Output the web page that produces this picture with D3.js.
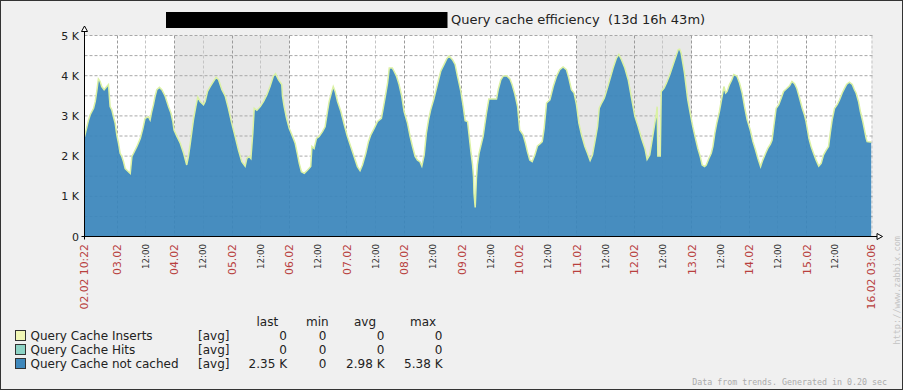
<!DOCTYPE html>
<html><head><meta charset="utf-8">
<script src="https://cdn.jsdelivr.net/npm/d3@7"></script>
<style>html,body{margin:0;padding:0;background:#f0f0f0}svg{display:block}</style>
</head><body><svg id="c" width="903" height="390"></svg>
<script>
const titleText = "Query cache efficiency  (13d 16h 43m)";
const startTime = new Date(2013, 1, 2, 10, 22);
const endTime = new Date(2013, 1, 16, 3, 6);

// hours after the start time, and the "not cached" average value
const hoursFromStart = [
  0.0,1.0,1.7,2.4,3.8,4.5,5.2,5.8,6.5,7.2,
  8.2,9.3,10.0,10.7,11.4,12.1,12.8,13.5,14.2,14.9,
  15.6,16.3,17.0,17.7,19.1,19.8,20.5,21.9,23.3,24.4,
  25.3,26.7,27.4,28.1,28.8,29.5,30.2,31.3,32.3,33.7,
  35.1,36.1,36.9,37.4,38.6,40.0,41.4,42.7,43.4,44.1,
  45.5,46.5,47.3,48.3,49.7,50.4,51.4,52.5,53.9,55.0,
  56.0,57.4,58.8,60.1,61.5,62.9,64.3,65.7,67.1,67.8,
  68.8,69.5,70.3,70.9,72.0,73.4,74.8,76.2,77.5,78.9,
  79.8,81.0,82.4,82.7,83.4,84.4,85.5,86.9,88.0,89.0,
  89.7,90.6,91.8,93.1,94.5,95.0,95.9,96.9,98.0,99.4,
  100.5,101.5,102.2,103.3,103.9,104.7,105.7,107.1,108.5,109.8,
  111.2,112.6,114.0,115.1,116.1,117.5,118.6,119.6,121.0,122.4,
  124.0,124.9,125.9,126.6,127.3,128.6,129.3,130.3,131.4,132.5,
  133.5,134.9,136.0,137.0,138.1,139.1,140.1,140.9,141.9,142.8,
  143.7,144.6,146.0,147.4,148.8,150.2,151.3,152.3,153.7,154.8,
  155.8,157.2,158.3,159.0,160.0,160.7,161.4,162.1,162.5,162.7,
  163.2,163.7,164.1,164.8,165.8,166.5,167.2,167.9,168.9,172.1,
  172.8,173.9,174.9,176.3,177.7,178.6,179.8,180.9,181.8,183.2,
  184.2,185.0,186.0,187.0,188.1,189.2,190.2,191.2,192.0,193.0,
  194.4,195.8,197.2,198.5,199.9,201.3,202.3,203.4,204.5,205.5,
  206.5,207.6,209.0,210.1,211.2,212.2,213.2,214.3,215.0,216.0,
  217.1,218.0,219.4,220.8,222.2,223.2,224.3,225.7,227.1,228.5,
  229.9,231.3,232.7,234.1,235.0,236.1,237.1,238.0,238.9,239.2,
  239.5,240.5,240.9,242.1,243.1,244.5,245.9,247.3,248.0,248.6,
  249.2,249.9,250.6,251.3,252.0,253.0,254.1,255.2,256.2,257.2,
  258.0,259.0,259.7,260.8,261.8,262.5,263.3,264.1,265.2,266.2,
  267.1,267.8,268.4,269.4,270.4,271.2,272.5,273.6,274.7,275.7,
  276.8,278.1,279.2,280.3,281.3,282.4,283.3,284.5,285.4,286.5,
  287.2,287.9,288.9,290.0,291.0,292.0,293.1,294.5,295.5,296.6,
  297.5,298.7,299.8,300.7,301.4,302.6,303.5,304.5,305.6,306.7,
  307.7,308.7,309.8,310.8,311.5,312.3,313.3,314.4,315.4,316.5,
  317.5,318.4,319.5,320.7,321.6,322.3,323.3,324.1,325.1,325.8,
  326.5,326.9,328.3,328.7
];
const notCached = [
  2480,2730,2900,3030,3190,3360,3650,3920,3860,3730,
  3650,3730,3780,3230,3150,2980,2820,2530,2320,2070,
  1990,1860,1690,1650,1570,1990,2070,2240,2440,2690,
  2940,2980,2900,3110,3280,3490,3650,3710,3650,3490,
  3230,3070,2860,2650,2490,2320,2070,1780,1990,2280,
  2900,3230,3470,3360,3280,3360,3610,3730,3860,3960,
  3900,3650,3490,3190,2820,2490,2150,1860,1750,1940,
  1990,1940,2570,3190,3140,3230,3360,3530,3730,3990,
  4050,3900,3780,3490,3230,2940,2690,2490,2320,2030,
  1820,1610,1570,1650,1740,2240,2190,2440,2490,2610,
  2730,3110,3360,3610,3730,3610,3360,3110,2780,2490,
  2240,1990,1740,1640,1780,2070,2360,2530,2690,2860,
  2940,3230,3570,3820,4190,4190,4110,3990,3780,3490,
  3110,2820,2490,2240,1990,1900,1860,1750,2030,2570,
  2900,3150,3440,3780,4110,4280,4420,4490,4400,4280,
  3990,3610,3190,2880,2860,2490,2110,1780,1490,1070,
  720,1440,1780,2070,2320,2490,2780,3070,3420,3420,
  3650,3900,3990,4000,3920,3780,3530,3230,2650,2530,
  2320,2110,1900,1860,2030,2250,2300,2360,2690,3320,
  3400,3730,3990,4150,4220,4150,3940,3650,3570,3280,
  2820,2530,2240,2070,1890,2030,2360,2730,3190,3320,
  3440,3610,3900,4190,4440,4530,4400,4190,3900,3440,
  2990,2730,2440,2190,1920,2030,2400,2730,3070,3230,
  2000,2000,3610,3690,3820,4030,4280,4530,4650,4660,
  4570,4320,4070,3730,3400,3070,2730,2440,2190,1990,
  1780,1740,1780,1940,2070,2240,2570,2820,3110,3440,
  3730,3570,3610,3780,3900,4030,3990,3820,3570,3230,
  2900,2650,2360,2150,1940,1740,1900,2070,2190,2300,
  2400,2730,3190,3280,3440,3610,3670,3750,3860,3800,
  3690,3440,3190,3030,2860,2440,2240,2070,1900,1750,
  1820,2030,2150,2240,2570,2900,3190,3280,3400,3570,
  3690,3790,3840,3780,3650,3570,3360,3110,2860,2650,
  2440,2360,2350,2350
];

const yTickValues = [0, 1000, 2000, 3000, 4000, 5000];
const yTickLabels = ["0", "1 K", "2 K", "3 K", "4 K", "5 K"];
const yGridValues = [500, 1000, 1500, 2000, 2500, 3000, 3500, 4000, 4500, 5000];
const weekendStarts = [new Date(2013, 1, 4), new Date(2013, 1, 11)];
const weekendEnds = [new Date(2013, 1, 6), new Date(2013, 1, 13)];
const startLabel = "02.02 10:22";
const endLabel = "16.02 03:06";

const legendNames = ["Query Cache Inserts", "Query Cache Hits", "Query Cache not cached"];
const legendColors = ["#f1f7b6", "#8dd3c5", "#3f88bc"];
const legendFunc = ["[avg]", "[avg]", "[avg]"];
const legendHeaders = ["last", "min", "avg", "max"];
const legendLast = ["0", "0", "2.35 K"];
const legendMin = ["0", "0", "0"];
const legendAvg = ["0", "0", "2.98 K"];
const legendMax = ["0", "0", "5.38 K"];

const footerText = "Data from trends. Generated in 0.20 sec";
const watermark = "http://www.zabbix.com";

const FONT = "DejaVu Sans";
const svg = d3.select("#c");

svg.append("rect").attr("x", 0.5).attr("y", 0.5).attr("width", 902).attr("height", 389)
  .attr("fill", "#f0f0f0").attr("stroke", "#333");

const x = d3.scaleTime().domain([startTime, endTime]).range([84.5, 871.5]);
const y = d3.scaleLinear().domain([0, 5000]).range([236.5, 35.5]);
const X0 = x.range()[0], X1 = x.range()[1], Y0 = y.range()[0], Y1 = y.range()[1];

// title
svg.append("rect").attr("x", 166).attr("y", 12).attr("width", 281.5).attr("height", 16).attr("fill", "#000");
svg.append("text").attr("x", 451).attr("y", 24).attr("font-family", FONT).attr("font-size", 13)
  .attr("fill", "#222").style("white-space", "pre").text(titleText);

// plot background
svg.append("rect").attr("x", X0).attr("y", Y1).attr("width", X1 - X0).attr("height", Y0 - Y1).attr("fill", "#fff");
svg.selectAll("rect.we").data(weekendStarts).join("rect").attr("class", "we")
  .attr("x", d => x(d)).attr("y", Y1)
  .attr("width", (d, i) => x(weekendEnds[i]) - x(d)).attr("height", Y0 - Y1)
  .attr("fill", "#e8e8e8");

// grid (12-hour steps, skipping those that crowd the start / end labels)
const ticks = d3.timeHour.every(12).range(startTime, endTime)
  .filter(t => x(t) - X0 > 12 && X1 - x(t) > 12);
const crisp = v => Math.round(v - 0.5) + 0.5;
svg.selectAll("line.vg").data(ticks).join("line").attr("class", "vg")
  .attr("x1", d => crisp(x(d))).attr("x2", d => crisp(x(d)))
  .attr("y1", Y1).attr("y2", Y0)
  .attr("stroke", d => d.getHours() === 0 ? "#9a9a9a" : "#c4c4c4")
  .attr("stroke-dasharray", "3,2");
svg.append("line").attr("x1", X1 + 0.5).attr("x2", X1 + 0.5).attr("y1", Y1).attr("y2", Y0)
  .attr("stroke", "#c4c4c4").attr("stroke-dasharray", "3,2");
svg.selectAll("line.hg").data(yGridValues).join("line").attr("class", "hg")
  .attr("x1", X0).attr("x2", X1 + 1).attr("y1", d => y(d)).attr("y2", d => y(d))
  .attr("stroke", "#a8a8a8").attr("stroke-dasharray", "3,2");

// data
const data = hoursFromStart.map((h, i) => ({ t: new Date(+startTime + h * 3600e3), v: notCached[i] }));
svg.append("clipPath").attr("id", "pc").append("rect")
  .attr("x", X0).attr("y", Y1 - 2).attr("width", X1 - X0).attr("height", Y0 - Y1 + 2);
const g = svg.append("g").attr("clip-path", "url(#pc)");
g.append("path").datum(data)
  .attr("d", d3.area().x(d => x(d.t)).y0(Y0).y1(d => y(d.v)))
  .attr("fill", "#3a85bb").attr("fill-opacity", 0.93);
g.append("path").datum(data)
  .attr("d", d3.line().x(d => x(d.t)).y(d => y(d.v)))
  .attr("fill", "none").attr("stroke", "#dbf1a4").attr("stroke-width", 1.5);

// axes
svg.append("line").attr("x1", X0).attr("x2", X0).attr("y1", 31).attr("y2", Y0 + 3).attr("stroke", "#000");
svg.append("line").attr("x1", X0 - 3).attr("x2", 877).attr("y1", Y0).attr("y2", Y0).attr("stroke", "#000");
svg.append("path").attr("d", `M${X0},26 L${X0 - 3},31.5 L${X0 + 3},31.5 Z`).attr("fill", "#fff").attr("stroke", "#000");
svg.append("path").attr("d", `M882.5,${Y0} L877,${Y0 - 3} L877,${Y0 + 3} Z`).attr("fill", "#fff").attr("stroke", "#000");

svg.selectAll("text.yl").data(yTickValues).join("text").attr("class", "yl")
  .attr("x", 79).attr("y", d => y(d) + 4).attr("text-anchor", "end")
  .attr("font-family", FONT).attr("font-size", 11).attr("fill", "#222")
  .text((d, i) => yTickLabels[i]);

// x labels
const xLabels = [{ t: startTime, s: startLabel, main: true }]
  .concat(ticks.map(t => ({ t, s: t.getHours() === 0 ? d3.timeFormat("%d.%m")(t) : "12:00", main: t.getHours() === 0 })))
  .concat([{ t: endTime, s: endLabel, main: true }]);
svg.selectAll("text.xl").data(xLabels).join("text").attr("class", "xl")
  .attr("transform", d => `translate(${x(d.t)},244) rotate(-90)`)
  .attr("text-anchor", "end").attr("dy", "0.36em")
  .attr("font-family", FONT).attr("font-size", d => d.main ? 10.8 : 8.7)
  .attr("fill", d => d.main ? "#b8403e" : "#333")
  .text(d => d.s);

// watermark
svg.append("text").attr("transform", "translate(897,236) rotate(-90)").attr("text-anchor", "end")
  .attr("dy", "0.35em").attr("font-family", "DejaVu Sans Mono").attr("font-size", 8.6)
  .attr("fill", "#c4c4c4").text(watermark);

// legend
const hx = [256.5, 306, 354, 410];
svg.selectAll("text.lh").data(legendHeaders).join("text").attr("class", "lh")
  .attr("x", (d, i) => hx[i]).attr("y", 326).attr("font-family", FONT).attr("font-size", 12).attr("fill", "#222").text(d => d);
const lg = svg.selectAll("g.lg").data(legendNames).join("g").attr("class", "lg")
  .attr("transform", (d, i) => `translate(0,${340 + i * 14})`);
lg.append("rect").attr("x", 15.5).attr("y", -9.5).attr("width", 10).attr("height", 10)
  .attr("fill", (d, i) => legendColors[i]).attr("stroke", "#333");
const lt = (sel, xx, anchor, f) => sel.append("text").attr("x", xx).attr("text-anchor", anchor)
  .attr("font-family", FONT).attr("font-size", 12).attr("fill", "#222").text(f);
lt(lg, 30.5, "start", d => d);
lt(lg, 198, "start", (d, i) => legendFunc[i]);
lt(lg, 287, "end", (d, i) => legendLast[i]);
lt(lg, 326.5, "end", (d, i) => legendMin[i]);
lt(lg, 384.5, "end", (d, i) => legendAvg[i]);
lt(lg, 442.5, "end", (d, i) => legendMax[i]);

svg.append("text").attr("x", 887).attr("y", 384.5).attr("text-anchor", "end")
  .attr("font-family", "DejaVu Sans Mono").attr("font-size", 8.3).attr("fill", "#ababab").text(footerText);
</script></body></html>
